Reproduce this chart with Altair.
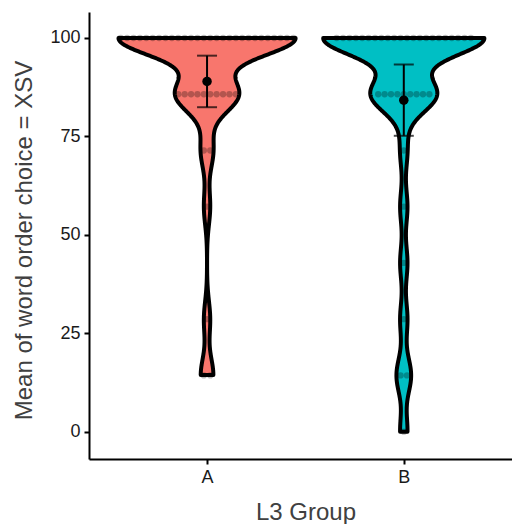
import numpy as np
import pandas as pd
import altair as alt

# Groups on the x axis and their fills
groups = ["A", "B"]
fill_colors = ["#F8766D", "#00BFC4"]

# Each participant score is the share of seven trials (in %), so only eight levels occur
levels = [0.0, 100 / 7, 200 / 7, 300 / 7, 400 / 7, 500 / 7, 600 / 7, 100.0]
counts_a = [0, 2, 1, 0, 1, 2, 10, 28]
counts_b = [1, 2, 1, 1, 1, 1, 9, 22]

y_ticks = [0, 25, 50, 75, 100]

HALF_WIDTH = 0.45      # violin half width (x units) at the largest density
DOT_STEP = 0.0325      # horizontal spacing of stacked dots (x units)

# ---- one row per participant ----------------------------------------------
rows = []
for gi, (g, cnts) in enumerate(zip(groups, [counts_a, counts_b])):
    for v, c in zip(levels, cnts):
        for j in range(c):
            rows.append({"group": g, "idx": gi + 1, "value": v, "j": j, "nlev": c})
obs = pd.DataFrame(rows)


def nrd0(x):
    x = np.asarray(x, dtype=float)
    sd = x.std(ddof=1)
    q75, q25 = np.percentile(x, [75, 25])
    lo = min(sd, (q75 - q25) / 1.34)
    return 0.9 * lo * len(x) ** (-0.2)


def t975(df):
    # Cornish-Fisher expansion of the 97.5% Student t quantile
    z = 1.959964
    return (z + (z ** 3 + z) / (4 * df)
            + (5 * z ** 5 + 16 * z ** 3 + 3 * z) / (96 * df ** 2)
            + (3 * z ** 7 + 19 * z ** 5 + 17 * z ** 3 - 15 * z) / (384 * df ** 3))


bws = []
summary_rows = []
for gi, g in enumerate(groups):
    vals = obs.loc[obs["group"] == g, "value"].to_numpy()
    bws.append(nrd0(vals))
    n = len(vals)
    m = vals.mean()
    half = t975(n - 1) * vals.std(ddof=1) / np.sqrt(n)
    summary_rows.append({"group": g, "idx": gi + 1, "mean": m, "lo": m - half, "hi": m + half})
summary = pd.DataFrame(summary_rows)
bandwidth = float(np.mean(bws))

# ---- shared scales / axes -----------------------------------------------------
x_scale = alt.Scale(domain=[0.4, 2.55], nice=False, zero=False)
y_scale = alt.Scale(domain=[-6.94, 106.6], nice=False, zero=False)

label_expr = "[" + ",".join(f"'{g}'" for g in groups) + "][datum.value - 1]"
x_axis = alt.Axis(values=[1, 2], labelExpr=label_expr, title="L3 Group", grid=False,
                  titleX=216.5, titleY=53, titleAlign="center", titleBaseline="middle")
y_axis = alt.Axis(values=y_ticks, title="Mean of word order choice = XSV", grid=False,
                  titleX=-65, titleY=228, titleAngle=-90, titleAlign="center",
                  titleBaseline="middle")


def X(field):
    return alt.X(field, type="quantitative", scale=x_scale, axis=x_axis, stack=None,
                 title="L3 Group")


def Y(field):
    return alt.Y(field, type="quantitative", scale=y_scale, axis=y_axis,
                 title="Mean of word order choice = XSV")


fill = alt.Fill("group:N", scale=alt.Scale(domain=groups, range=fill_colors), legend=None)

# ---- violins: trimmed kernel density, widths scaled by the overall maximum -----
density = (
    alt.Chart(obs)
    .transform_joinaggregate(vmin="min(value)", vmax="max(value)", groupby=["group"])
    .transform_density("value", groupby=["group", "idx", "vmin", "vmax"],
                       bandwidth=bandwidth, extent=[0, 100], steps=701,
                       as_=["value", "density"])
    .transform_filter("datum.value >= datum.vmin - 0.000001 && datum.value <= datum.vmax + 0.000001")
    .transform_joinaggregate(dmax="max(density)")
    .transform_calculate(
        left=f"datum.idx - {HALF_WIDTH} * datum.density / datum.dmax",
        right=f"datum.idx + {HALF_WIDTH} * datum.density / datum.dmax",
    )
)
violin_fill = density.mark_area(orient="horizontal").encode(
    y=Y("value"), x=X("left"), x2="right:Q", fill=fill)

# outline: up the left edge, down the right edge, closed across the bottom
violin_edge = (
    density
    .transform_fold(["left", "right"], as_=["side", "edge"])
    .transform_calculate(path_order="datum.side == 'left' ? datum.value : 1000 - datum.value")
    .mark_line(interpolate="linear-closed", color="black", strokeWidth=4,
               strokeJoin="round")
    .encode(y=Y("value"), x=X("edge:Q"), detail="group:N",
            order=alt.Order("path_order:Q"))
)

# ---- centred dot stacks of the raw scores ---------------------------------
dots = (
    alt.Chart(obs)
    .transform_calculate(xpos=f"datum.idx + (datum.j - (datum.nlev - 1) / 2) * {DOT_STEP}")
    .mark_circle(size=40, color="black", opacity=0.28)
    .encode(x=X("xpos"), y=Y("value"))
)

# ---- mean and 95% confidence interval ---------------------------------------
ci_bar = (
    alt.Chart(summary)
    .mark_rule(color="black", strokeWidth=2)
    .encode(x=X("idx"), y=Y("lo"), y2="hi:Q")
)
cap_lo = (
    alt.Chart(summary)
    .mark_tick(orient="horizontal", size=20, thickness=2, color="black")
    .encode(x=X("idx"), y=Y("lo"))
)
cap_hi = (
    alt.Chart(summary)
    .mark_tick(orient="horizontal", size=20, thickness=2, color="black")
    .encode(x=X("idx"), y=Y("hi"))
)
mean_pt = (
    alt.Chart(summary)
    .mark_circle(size=90, color="black", opacity=1)
    .encode(x=X("idx"), y=Y("mean"))
)

chart = (
    alt.layer(violin_fill, violin_edge, dots, ci_bar, cap_lo, cap_hi, mean_pt)
    .properties(width=423, height=447,
                autosize=alt.AutoSizeParams(type="none"),
                padding={"left": 89, "top": 12, "right": 0, "bottom": 65})
    .configure_view(stroke=None)
    .configure_axis(domainColor="black", domainWidth=2, tickColor="black", tickWidth=2,
                    tickSize=5, labelFont="Liberation Sans", labelFontSize=18,
                    labelColor="#1a1a1a", labelPadding=4,
                    titleFont="Liberation Sans", titleFontSize=24,
                    titleFontWeight="normal", titleColor="#404040")
)

chart.save("out.html", embed_options={"renderer": "svg", "actions": False})
